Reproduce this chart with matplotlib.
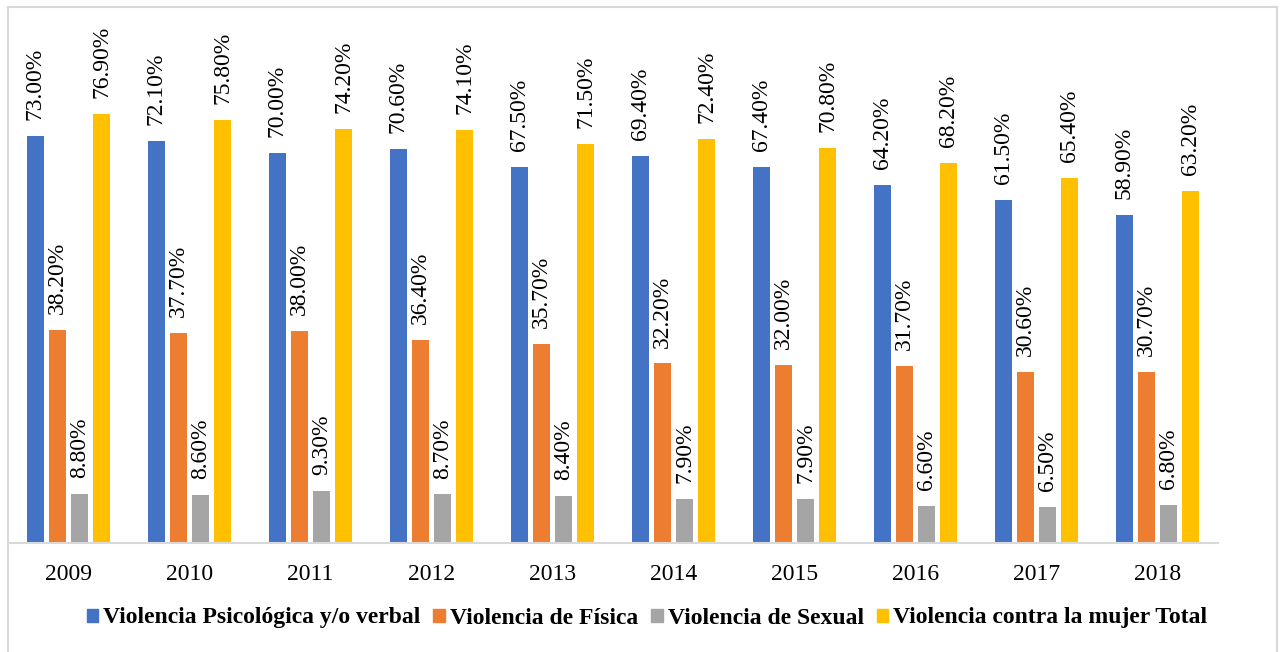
import matplotlib.pyplot as plt
from matplotlib.patches import Rectangle
import numpy as np

plt.rcParams['font.family'] = ['Liberation Serif', 'DejaVu Serif']

# Data
years = ['2009', '2010', '2011', '2012', '2013', '2014', '2015', '2016', '2017', '2018']
psicologica = [73.0, 72.1, 70.0, 70.6, 67.5, 69.4, 67.4, 64.2, 61.5, 58.9]
fisica = [38.2, 37.7, 38.0, 36.4, 35.7, 32.2, 32.0, 31.7, 30.6, 30.7]
sexual = [8.8, 8.6, 9.3, 8.7, 8.4, 7.9, 7.9, 6.6, 6.5, 6.8]
total = [76.9, 75.8, 74.2, 74.1, 71.5, 72.4, 70.8, 68.2, 65.4, 63.2]

series_names = ['Violencia Psicológica y/o verbal', 'Violencia de Física',
                'Violencia de Sexual', 'Violencia contra la mujer Total']
colors = ['#4472C4', '#ED7D31', '#A5A5A5', '#FFC000']

fig = plt.figure(figsize=(12.8, 6.52), dpi=100)
ax = fig.add_axes([8/1280, 1 - 543/652, 1210/1280, 536/652])

x = np.arange(len(years))
width = 0.14
pitch = 0.182

for i, (vals, c) in enumerate(zip([psicologica, fisica, sexual, total], colors)):
    pos = x + (i - 1.5) * pitch
    bars = ax.bar(pos, vals, width, color=c, zorder=2)
    for b, v in zip(bars, vals):
        ax.annotate(f'{v:.2f}%', (b.get_x() + b.get_width() / 2, v),
                    xytext=(0, 11.5), textcoords='offset points',
                    ha='center', va='bottom', rotation=90, fontsize=17)

ax.set_xlim(-0.5, len(years) - 0.5)
ax.set_ylim(0, 536 / 5.575)
ax.set_xticks(x)
ax.set_xticklabels(years, fontsize=17)
ax.tick_params(axis='x', length=0, pad=15)
ax.set_yticks([])
for s in ['top', 'right', 'left']:
    ax.spines[s].set_visible(False)
ax.spines['bottom'].set_color('#D9D9D9')
ax.spines['bottom'].set_linewidth(1.5)

# Legend
handles = [Rectangle((0, 0), 1, 1, color=c) for c in colors]
fig.legend(handles, series_names, loc='center', bbox_to_anchor=(647/1280, 1 - 618/652),
           ncol=4, frameon=False, handlelength=0.48, handleheight=0.48,
           handletextpad=0.22, columnspacing=0.55,
           prop={'family': 'Liberation Serif', 'weight': 'bold', 'size': 17})

# Chart border
fig.add_artist(plt.Line2D([8/1280, 8/1280], [0, 1 - 7/652], color='#D9D9D9', lw=1.5))
fig.add_artist(plt.Line2D([8/1280, 1277/1280], [1 - 7/652, 1 - 7/652], color='#D9D9D9', lw=1.5))
fig.add_artist(plt.Line2D([1277/1280, 1277/1280], [0, 1 - 7/652], color='#D9D9D9', lw=1.5))

fig.savefig('out.png', dpi=100)
